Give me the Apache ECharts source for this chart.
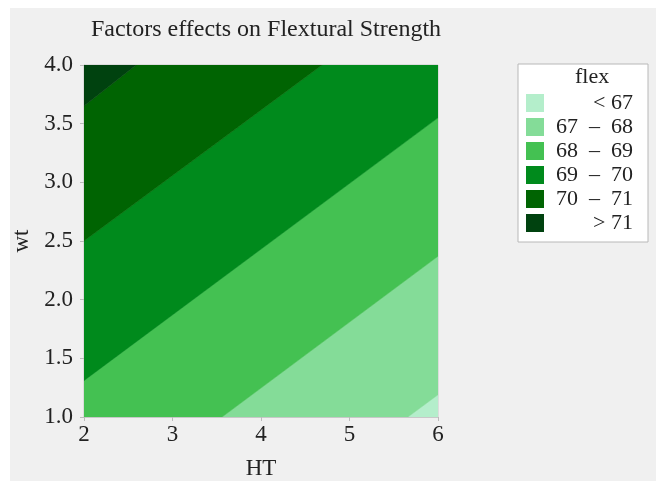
<!DOCTYPE html>
<html>
<head>
<meta charset="utf-8">
<script src="https://cdn.jsdelivr.net/npm/echarts@6/dist/echarts.min.js"></script>
<style>
  html, body { margin: 0; padding: 0; background: #fff; }
  #main { width: 656px; height: 481px; }
</style>
</head>
<body>
<div id="main"></div>
<script>
// contour bands of flex over HT (x) and wt (y), vertices
var bandNames = ['< 67', '67 – 68', '68 – 69', '69 – 70', '70 – 71', '> 71'];
var bandLt67 = [[5.66, 1], [6, 1], [6, 1.19]];
var band67to68 = [[3.56, 1], [5.66, 1], [6, 1.19], [6, 2.37]];
var band68to69 = [[2, 1], [3.56, 1], [6, 2.37], [6, 3.55], [2, 1.31]];
var band69to70 = [[2, 1.31], [6, 3.55], [6, 4], [4.69, 4], [2, 2.5]];
var band70to71 = [[2, 2.5], [4.69, 4], [2.59, 4], [2, 3.65]];
var bandGt71 = [[2, 3.65], [2.59, 4], [2, 4]];
var xTicks = [2, 3, 4, 5, 6];
var yTicks = [1.0, 1.5, 2.0, 2.5, 3.0, 3.5, 4.0];

var bands = [bandLt67, band67to68, band68to69, band69to70, band70to71, bandGt71];
var bandColors = ['#b4eecb', '#84dc98', '#44c152', '#008a1c', '#006402', '#00420f'];
var serif = '"Liberation Serif", "Times New Roman", Times, "DejaVu Serif", serif';

var chart = echarts.init(document.getElementById('main'));

function polygonItem(pts, color) {
    return function (params, api) {
        if (params.dataIndex !== 0) { return; }
        var points = pts.map(function (p) { return api.coord(p); });
        return {
            type: 'polygon',
            shape: { points: points },
            style: { fill: color, stroke: color, lineWidth: 0.5 }
        };
    };
}

var series = bands.map(function (pts, i) {
    return {
        name: bandNames[i],
        type: 'custom',
        color: bandColors[i],
        renderItem: polygonItem(pts, bandColors[i]),
        data: pts,
        encode: { x: 0, y: 1 },
        silent: true,
        clip: true
    };
});

var option = {
    backgroundColor: '#fff',
    animation: false,
    graphic: [
        {
            type: 'rect', z: -100,
            shape: { x: 10, y: 8, width: 646, height: 473 },
            style: { fill: '#f0f0f0' }
        },
        {
            type: 'text', left: 575, top: 66, z: 100,
            style: { text: 'flex', fontFamily: serif, fontSize: 22, fill: '#222' }
        }
    ],
    title: {
        text: 'Factors effects on Flextural Strength',
        left: 261,
        top: 13,
        textAlign: 'center',
        textStyle: { fontFamily: serif, fontSize: 24, fontWeight: 'normal', color: '#222' }
    },
    legend: {
        orient: 'vertical',
        left: 518,
        top: 64,
        padding: [28, 15, 8, 8],
        itemWidth: 18,
        itemHeight: 18,
        itemGap: 2,
        icon: 'rect',
        selectedMode: false,
        backgroundColor: '#fff',
        borderColor: '#b8b8b8',
        borderWidth: 1,
        data: bandNames,
        formatter: function (name) { return '{t|' + name.replace(' – ', '  –  ') + '}'; },
        textStyle: {
            fontFamily: serif, fontSize: 22, color: '#222',
            rich: { t: { width: 84, align: 'right', fontFamily: serif, fontSize: 22, color: '#222' } }
        }
    },
    grid: {
        left: 84, right: 218, top: 65, bottom: 64,
        outerBoundsMode: 'none',
        containLabel: false,
        show: true, borderColor: '#c8c8c8', borderWidth: 1
    },
    xAxis: {
        type: 'value',
        min: xTicks[0], max: xTicks[xTicks.length - 1], interval: 1,
        name: 'HT', nameLocation: 'middle', nameGap: 40,
        nameTextStyle: { fontFamily: serif, fontSize: 23, color: '#222' },
        axisLine: { lineStyle: { color: '#c8c8c8' } },
        axisTick: { length: 4, lineStyle: { color: '#bbb' } },
        axisLabel: { fontFamily: serif, fontSize: 23, color: '#222', margin: 6 },
        splitLine: { show: false }
    },
    yAxis: {
        type: 'value',
        min: yTicks[0], max: yTicks[yTicks.length - 1], interval: 0.5,
        name: 'wt', nameLocation: 'middle', nameGap: 51,
        nameTextStyle: { fontFamily: serif, fontSize: 23, color: '#222' },
        axisLine: { show: true, lineStyle: { color: '#c8c8c8' } },
        axisTick: { show: true, length: 4, lineStyle: { color: '#bbb' } },
        axisLabel: {
            fontFamily: serif, fontSize: 23, color: '#222', margin: 11,
            formatter: function (v) { return v.toFixed(1); }
        },
        splitLine: { show: false }
    },
    series: series
};

chart.setOption(option);
</script>
</body>
</html>
